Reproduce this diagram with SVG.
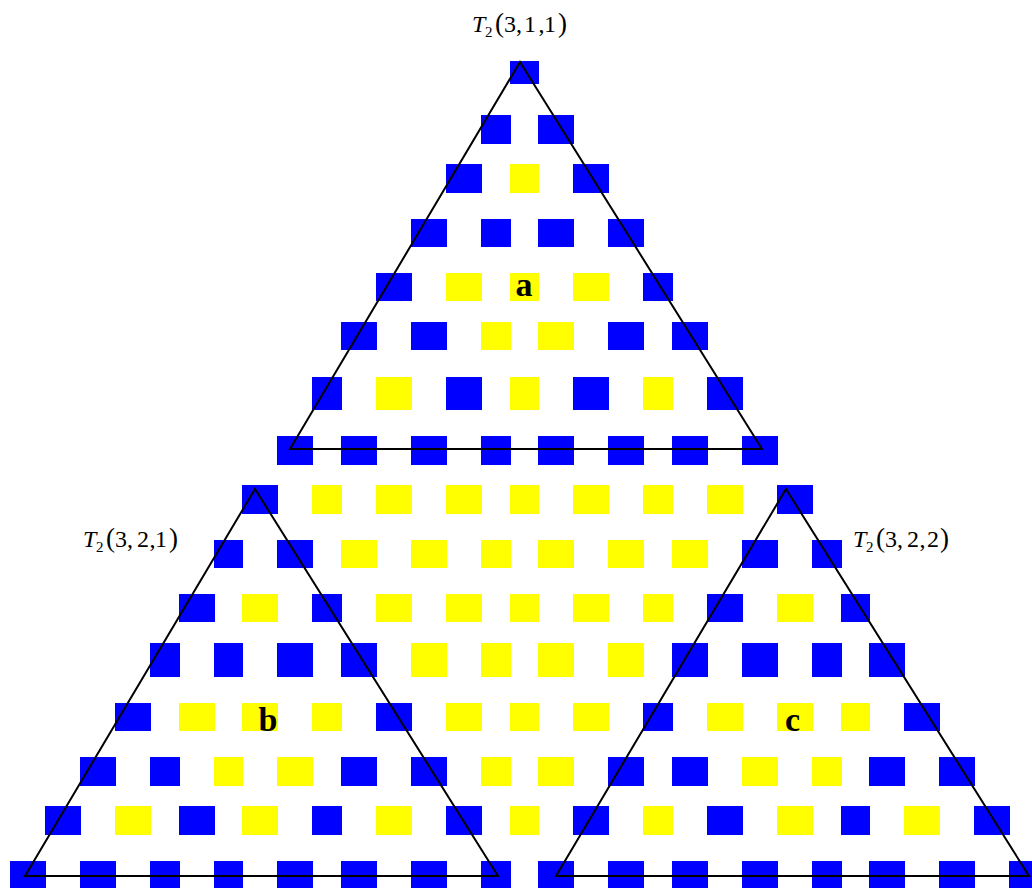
<svg xmlns="http://www.w3.org/2000/svg" width="1032" height="888" viewBox="0 0 1032 888">
<style>
.b{fill:#0000ff}
.y{fill:#ffff00}
.tri{fill:none;stroke:#000;stroke-width:2;stroke-linejoin:miter}
.lab{font-family:"Liberation Serif","Times New Roman",serif;font-size:24px;fill:#000}
.it{font-style:italic}
.sub{font-size:15px}
.par{font-size:27px}
.big{font-family:"Liberation Serif","Times New Roman",serif;font-size:34px;font-weight:bold;fill:#000;text-anchor:middle}
</style>
<rect width="1032" height="888" fill="#fff"/>
<g id="squares">
<!-- row 0 -->
<rect class="b" x="510" y="61" width="29" height="23"/>
<!-- row 1 -->
<rect class="b" x="481" y="115" width="30" height="29"/>
<rect class="b" x="538" y="115" width="36" height="29"/>
<!-- row 2 -->
<rect class="b" x="446" y="164" width="36" height="29"/>
<rect class="y" x="510" y="164" width="29" height="29"/>
<rect class="b" x="573" y="164" width="36" height="29"/>
<!-- row 3 -->
<rect class="b" x="411" y="219" width="36" height="28"/>
<rect class="b" x="481" y="219" width="30" height="28"/>
<rect class="b" x="538" y="219" width="36" height="28"/>
<rect class="b" x="608" y="219" width="36" height="28"/>
<!-- row 4 -->
<rect class="b" x="376" y="273" width="36" height="28"/>
<rect class="y" x="446" y="273" width="36" height="28"/>
<rect class="y" x="510" y="273" width="29" height="28"/>
<rect class="y" x="573" y="273" width="36" height="28"/>
<rect class="b" x="643" y="273" width="30" height="28"/>
<!-- row 5 -->
<rect class="b" x="341" y="322" width="36" height="28"/>
<rect class="b" x="411" y="322" width="36" height="28"/>
<rect class="y" x="481" y="322" width="30" height="28"/>
<rect class="y" x="538" y="322" width="36" height="28"/>
<rect class="b" x="608" y="322" width="36" height="28"/>
<rect class="b" x="672" y="322" width="36" height="28"/>
<!-- row 6 -->
<rect class="b" x="312" y="377" width="30" height="33"/>
<rect class="y" x="376" y="377" width="36" height="33"/>
<rect class="b" x="446" y="377" width="36" height="33"/>
<rect class="y" x="510" y="377" width="29" height="33"/>
<rect class="b" x="573" y="377" width="36" height="33"/>
<rect class="y" x="643" y="377" width="30" height="33"/>
<rect class="b" x="707" y="377" width="36" height="33"/>
<!-- row 7 -->
<rect class="b" x="277" y="436" width="36" height="29"/>
<rect class="b" x="341" y="436" width="36" height="29"/>
<rect class="b" x="411" y="436" width="36" height="29"/>
<rect class="b" x="481" y="436" width="30" height="29"/>
<rect class="b" x="538" y="436" width="36" height="29"/>
<rect class="b" x="608" y="436" width="36" height="29"/>
<rect class="b" x="672" y="436" width="36" height="29"/>
<rect class="b" x="742" y="436" width="36" height="29"/>
<!-- row 8 -->
<rect class="b" x="242" y="485" width="36" height="29"/>
<rect class="y" x="312" y="485" width="30" height="29"/>
<rect class="y" x="376" y="485" width="36" height="29"/>
<rect class="y" x="446" y="485" width="36" height="29"/>
<rect class="y" x="510" y="485" width="29" height="29"/>
<rect class="y" x="573" y="485" width="36" height="29"/>
<rect class="y" x="643" y="485" width="30" height="29"/>
<rect class="y" x="707" y="485" width="36" height="29"/>
<rect class="b" x="777" y="485" width="36" height="29"/>
<!-- row 9 -->
<rect class="b" x="214" y="540" width="29" height="28"/>
<rect class="b" x="277" y="540" width="36" height="28"/>
<rect class="y" x="341" y="540" width="36" height="28"/>
<rect class="y" x="411" y="540" width="36" height="28"/>
<rect class="y" x="481" y="540" width="30" height="28"/>
<rect class="y" x="538" y="540" width="36" height="28"/>
<rect class="y" x="608" y="540" width="36" height="28"/>
<rect class="y" x="672" y="540" width="36" height="28"/>
<rect class="b" x="742" y="540" width="36" height="28"/>
<rect class="b" x="812" y="540" width="30" height="28"/>
<!-- row 10 -->
<rect class="b" x="179" y="594" width="36" height="28"/>
<rect class="y" x="242" y="594" width="36" height="28"/>
<rect class="b" x="312" y="594" width="30" height="28"/>
<rect class="y" x="376" y="594" width="36" height="28"/>
<rect class="y" x="446" y="594" width="36" height="28"/>
<rect class="y" x="510" y="594" width="29" height="28"/>
<rect class="y" x="573" y="594" width="36" height="28"/>
<rect class="y" x="643" y="594" width="30" height="28"/>
<rect class="b" x="707" y="594" width="36" height="28"/>
<rect class="y" x="777" y="594" width="36" height="28"/>
<rect class="b" x="841" y="594" width="29" height="28"/>
<!-- row 11 -->
<rect class="b" x="150" y="643" width="30" height="34"/>
<rect class="b" x="214" y="643" width="29" height="34"/>
<rect class="b" x="277" y="643" width="36" height="34"/>
<rect class="b" x="341" y="643" width="36" height="34"/>
<rect class="y" x="411" y="643" width="36" height="34"/>
<rect class="y" x="481" y="643" width="30" height="34"/>
<rect class="y" x="538" y="643" width="36" height="34"/>
<rect class="y" x="608" y="643" width="36" height="34"/>
<rect class="b" x="672" y="643" width="36" height="34"/>
<rect class="b" x="742" y="643" width="36" height="34"/>
<rect class="b" x="812" y="643" width="30" height="34"/>
<rect class="b" x="869" y="643" width="36" height="34"/>
<!-- row 12 -->
<rect class="b" x="115" y="703" width="36" height="28"/>
<rect class="y" x="179" y="703" width="36" height="28"/>
<rect class="y" x="242" y="703" width="36" height="28"/>
<rect class="y" x="312" y="703" width="30" height="28"/>
<rect class="b" x="376" y="703" width="36" height="28"/>
<rect class="y" x="446" y="703" width="36" height="28"/>
<rect class="y" x="510" y="703" width="29" height="28"/>
<rect class="y" x="573" y="703" width="36" height="28"/>
<rect class="b" x="643" y="703" width="30" height="28"/>
<rect class="y" x="707" y="703" width="36" height="28"/>
<rect class="y" x="777" y="703" width="36" height="28"/>
<rect class="y" x="841" y="703" width="29" height="28"/>
<rect class="b" x="904" y="703" width="36" height="28"/>
<!-- row 13 -->
<rect class="b" x="80" y="757" width="36" height="29"/>
<rect class="b" x="150" y="757" width="30" height="29"/>
<rect class="y" x="214" y="757" width="29" height="29"/>
<rect class="y" x="277" y="757" width="36" height="29"/>
<rect class="b" x="341" y="757" width="36" height="29"/>
<rect class="b" x="411" y="757" width="36" height="29"/>
<rect class="y" x="481" y="757" width="30" height="29"/>
<rect class="y" x="538" y="757" width="36" height="29"/>
<rect class="b" x="608" y="757" width="36" height="29"/>
<rect class="b" x="672" y="757" width="36" height="29"/>
<rect class="y" x="742" y="757" width="36" height="29"/>
<rect class="y" x="812" y="757" width="30" height="29"/>
<rect class="b" x="869" y="757" width="36" height="29"/>
<rect class="b" x="939" y="757" width="36" height="29"/>
<!-- row 14 -->
<rect class="b" x="45" y="806" width="36" height="29"/>
<rect class="y" x="115" y="806" width="36" height="29"/>
<rect class="b" x="179" y="806" width="36" height="29"/>
<rect class="y" x="242" y="806" width="36" height="29"/>
<rect class="b" x="312" y="806" width="30" height="29"/>
<rect class="y" x="376" y="806" width="36" height="29"/>
<rect class="b" x="446" y="806" width="36" height="29"/>
<rect class="y" x="510" y="806" width="29" height="29"/>
<rect class="b" x="573" y="806" width="36" height="29"/>
<rect class="y" x="643" y="806" width="30" height="29"/>
<rect class="b" x="707" y="806" width="36" height="29"/>
<rect class="y" x="777" y="806" width="36" height="29"/>
<rect class="b" x="841" y="806" width="29" height="29"/>
<rect class="y" x="904" y="806" width="36" height="29"/>
<rect class="b" x="974" y="806" width="36" height="29"/>
<!-- row 15 -->
<rect class="b" x="10" y="861" width="36" height="29"/>
<rect class="b" x="80" y="861" width="36" height="29"/>
<rect class="b" x="150" y="861" width="30" height="29"/>
<rect class="b" x="214" y="861" width="29" height="29"/>
<rect class="b" x="277" y="861" width="36" height="29"/>
<rect class="b" x="341" y="861" width="36" height="29"/>
<rect class="b" x="411" y="861" width="36" height="29"/>
<rect class="b" x="481" y="861" width="30" height="29"/>
<rect class="b" x="538" y="861" width="36" height="29"/>
<rect class="b" x="608" y="861" width="36" height="29"/>
<rect class="b" x="672" y="861" width="36" height="29"/>
<rect class="b" x="742" y="861" width="36" height="29"/>
<rect class="b" x="812" y="861" width="30" height="29"/>
<rect class="b" x="869" y="861" width="36" height="29"/>
<rect class="b" x="939" y="861" width="36" height="29"/>
<rect class="b" x="1009" y="861" width="36" height="29"/>
</g>
<g id="triangles">
<polygon id="tri-a" class="tri" points="520,62 762,449 290,449"/>
<polygon id="tri-b" class="tri" points="255,489 498,876 25,876"/>
<polygon id="tri-c" class="tri" points="786,489 1029,876 556,876"/>
</g>
<g id="labels">
<text id="label-311" class="lab" y="32"><tspan class="it" x="472">T</tspan><tspan class="sub" x="485" dy="5">2</tspan><tspan class="par" x="495" dy="-5">(</tspan><tspan x="504">3</tspan><tspan x="516">,</tspan><tspan x="524">1</tspan><tspan x="538.5">,</tspan><tspan x="544">1</tspan><tspan class="par" x="558">)</tspan></text>
<text id="label-321" class="lab" y="547"><tspan class="it" x="83">T</tspan><tspan class="sub" x="96" dy="5">2</tspan><tspan class="par" x="106" dy="-5">(</tspan><tspan x="115">3</tspan><tspan x="127">,</tspan><tspan x="137">2</tspan><tspan x="149.5">,</tspan><tspan x="155">1</tspan><tspan class="par" x="169">)</tspan></text>
<text id="label-322" class="lab" y="547"><tspan class="it" x="853">T</tspan><tspan class="sub" x="866" dy="5">2</tspan><tspan class="par" x="876" dy="-5">(</tspan><tspan x="885">3</tspan><tspan x="897">,</tspan><tspan x="907">2</tspan><tspan x="919.5">,</tspan><tspan x="927">2</tspan><tspan class="par" x="940">)</tspan></text>
<text id="label-a" class="big" x="524" y="296">a</text>
<text id="label-b" class="big" x="268" y="731">b</text>
<text id="label-c" class="big" x="792.5" y="731">c</text>
</g>
</svg>
